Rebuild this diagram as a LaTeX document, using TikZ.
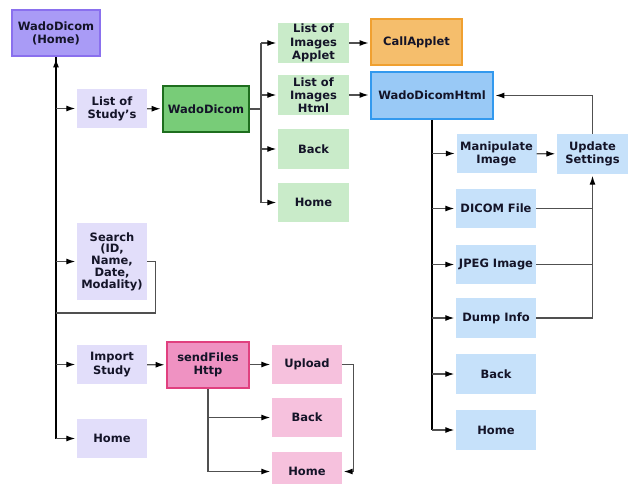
\documentclass[tikz,border=0pt]{standalone}
\usepackage{fontspec}
\setmainfont{DejaVu Sans}
\usetikzlibrary{arrows.meta}

\definecolor{txt}{HTML}{141428}
\definecolor{homefill}{HTML}{A99BF6}
\definecolor{homeline}{HTML}{8A70EE}
\definecolor{lilac}{HTML}{E2DEFA}
\definecolor{greenfill}{HTML}{78CC78}
\definecolor{greenline}{HTML}{1E6E1E}
\definecolor{mint}{HTML}{C9EBC9}
\definecolor{orangefill}{HTML}{F5BE6C}
\definecolor{orangeline}{HTML}{F0A030}
\definecolor{bluefill}{HTML}{99C9F6}
\definecolor{blueline}{HTML}{3399EE}
\definecolor{sky}{HTML}{C6E1FA}
\definecolor{pinkfill}{HTML}{EF92C2}
\definecolor{pinkline}{HTML}{E0407F}
\definecolor{rose}{HTML}{F6C1DD}
\definecolor{wire}{HTML}{505050}

\tikzset{
  box/.style={align=center,inner sep=0pt,text=txt,
    font=\bfseries\fontsize{11.5}{13.2}\selectfont},
  page/.style={box,minimum width=70pt,minimum height=39pt},
  mainbox/.style={box,minimum height=46pt,line width=1.8pt},
  link/.style={draw=wire,line width=1.25pt},
  arr/.style={link,shorten >=1.5pt,-{Latex[length=9pt,width=6pt,black]}},
}

\begin{document}
\begin{tikzpicture}[x=1pt,y=-1pt]
\useasboundingbox[fill=white] (0,0) rectangle (632,483);

% left column
\node (home) [mainbox,fill=homefill,draw=homeline,minimum width=88pt] at (56,33) {WadoDicom\\(Home)};
\node (study) [page,fill=lilac] at (112,108.5) {List of\\Study’s};
\node (search) [page,fill=lilac,minimum height=77pt,font=\bfseries\fontsize{11.5}{11.8}\selectfont] at (112,261.5) {Search\\(ID,\\Name,\\Date,\\Modality)};
\node (import) [page,fill=lilac] at (112,364.5) {Import\\Study};
\node (lhome) [page,fill=lilac] at (112,438.5) {Home};

% WadoDicom branch
\node (wado) [mainbox,fill=greenfill,draw=greenline,minimum width=86pt] at (206,109) {WadoDicom};
\node (applet) [page,fill=mint,minimum width=71pt,minimum height=40pt] at (313.5,43) {List of\\Images\\Applet};
\node (html) [page,fill=mint,minimum width=71pt,minimum height=40pt] at (313.5,95) {List of\\Images\\Html};
\node (gback) [page,fill=mint,minimum width=71pt,minimum height=40pt] at (313.5,149) {Back};
\node (ghome) [page,fill=mint,minimum width=71pt] at (313.5,202.5) {Home};
\node (call) [mainbox,fill=orangefill,draw=orangeline,minimum width=91pt] at (416.5,42) {CallApplet};
\node (wdhtml) [mainbox,fill=bluefill,draw=blueline,minimum width=122pt,minimum height=47pt] at (432,95.5) {WadoDicomHtml};

% WadoDicomHtml pages
\node (manip) [page,fill=sky,minimum width=80pt] at (496.5,153.5) {Manipulate\\Image};
\node (dicom) [page,fill=sky,minimum width=80pt] at (496,208.5) {DICOM File};
\node (jpeg) [page,fill=sky,minimum width=80pt] at (496,264.5) {JPEG Image};
\node (dump) [page,fill=sky,minimum width=80pt,minimum height=40pt] at (496,318) {Dump Info};
\node (bback) [page,fill=sky,minimum width=80pt,minimum height=40pt] at (496,374) {Back};
\node (bhome) [page,fill=sky,minimum width=80pt,minimum height=40pt] at (496,430) {Home};
\node (update) [page,fill=sky,minimum width=71pt,minimum height=40pt] at (592.5,154) {Update\\Settings};

% sendFilesHttp branch
\node (send) [mainbox,fill=pinkfill,draw=pinkline,minimum width=82pt] at (208,365) {sendFiles\\Http};
\node (upload) [page,fill=rose] at (307,364.5) {Upload};
\node (pback) [page,fill=rose] at (307,417.5) {Back};
\node (phome) [page,fill=rose] at (307,471.5) {Home};

% connectors
\draw[link,draw=black,line width=1.6pt] (home.south |- lhome.west) -- (home.south);
\draw[arr,draw=black,line width=1.6pt] (home.south |- study.west) -- (home.south);
\foreach \n in {study,search,import,lhome}
    \draw[arr] (home.south |- \n.west) -- (\n.west);
\coordinate (sloop) at (56,313);
\draw[link] (search.east) -- ++(8,0) |- (sloop);
\draw[arr] (study) -- (wado);
\draw[arr] (import) -- (send);

\coordinate (wbr) at (261,109);
\draw[link] (wado.east) -- (wbr);
\draw[link] (wbr |- applet.west) -- (wbr |- ghome.west);
\foreach \n in {applet,html,gback,ghome}
    \draw[arr] (wbr |- \n.west) -- (\n.west);
\draw[arr] (applet.east) -- (call.west |- applet.east);
\draw[arr] (html.east) -- (wdhtml.west |- html.east);

\draw[link,draw=black] (wdhtml.south) -- (wdhtml.south |- bhome.west);
\foreach \n in {manip,dicom,jpeg,dump,bback,bhome}
    \draw[arr] (wdhtml.south |- \n.west) -- (\n.west);
\draw[arr] (manip) -- (update);
\draw[arr] (update.north) |- (wdhtml.east);
\draw[arr] (update.south |- dump.east) -- (update.south);
\foreach \n in {dicom,jpeg,dump}
    \draw[link] (\n.east) -- (update.south |- \n.east);

\draw[arr] (send.east |- upload.west) -- (upload.west);
\draw[link] (send.south) -- (send.south |- phome.west);
\draw[arr] (send.south |- pback.west) -- (pback.west);
\draw[arr] (send.south |- phome.west) -- (phome.west);
\draw[arr] (upload.east) -- ++(11,0) |- (phome.east);
\end{tikzpicture}
\end{document}
